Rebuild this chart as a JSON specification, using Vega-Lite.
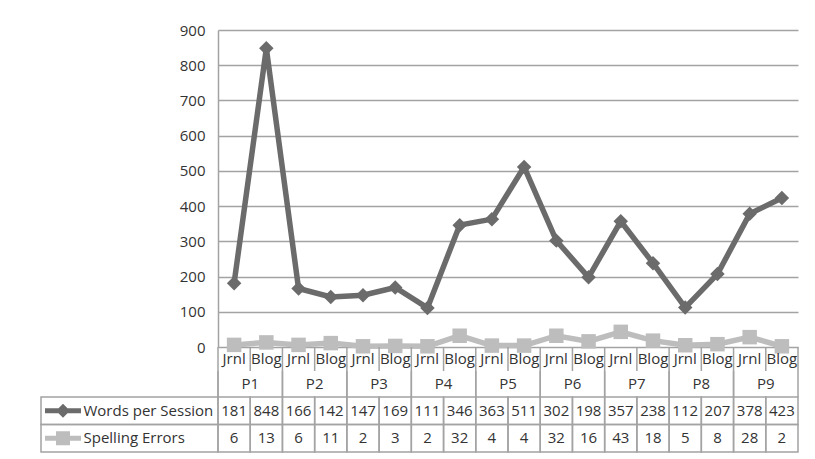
{
  "$schema": "https://vega.github.io/schema/vega-lite/v6.json",
  "background": "white",
  "padding": {"left": 40, "top": 23, "right": 18, "bottom": 5},
  "autosize": {"type": "pad"},
  "config": {
    "view": {"stroke": null},
    "font": "Open Sans",
    "text": {"font": "Open Sans", "fontSize": 15, "fill": "#333333"},
    "rule": {"stroke": "#a3a3a3", "strokeWidth": 1.5},
    "rect": {"fill": "transparent", "stroke": "#a3a3a3", "strokeWidth": 1.5}
  },
  "datasets": {
    "sessions": [
      {"participant": "P1", "session": "Jrnl", "key": "P1 Jrnl", "Words per Session": 181, "Spelling Errors": 6},
      {"participant": "P1", "session": "Blog", "key": "P1 Blog", "Words per Session": 848, "Spelling Errors": 13},
      {"participant": "P2", "session": "Jrnl", "key": "P2 Jrnl", "Words per Session": 166, "Spelling Errors": 6},
      {"participant": "P2", "session": "Blog", "key": "P2 Blog", "Words per Session": 142, "Spelling Errors": 11},
      {"participant": "P3", "session": "Jrnl", "key": "P3 Jrnl", "Words per Session": 147, "Spelling Errors": 2},
      {"participant": "P3", "session": "Blog", "key": "P3 Blog", "Words per Session": 169, "Spelling Errors": 3},
      {"participant": "P4", "session": "Jrnl", "key": "P4 Jrnl", "Words per Session": 111, "Spelling Errors": 2},
      {"participant": "P4", "session": "Blog", "key": "P4 Blog", "Words per Session": 346, "Spelling Errors": 32},
      {"participant": "P5", "session": "Jrnl", "key": "P5 Jrnl", "Words per Session": 363, "Spelling Errors": 4},
      {"participant": "P5", "session": "Blog", "key": "P5 Blog", "Words per Session": 511, "Spelling Errors": 4},
      {"participant": "P6", "session": "Jrnl", "key": "P6 Jrnl", "Words per Session": 302, "Spelling Errors": 32},
      {"participant": "P6", "session": "Blog", "key": "P6 Blog", "Words per Session": 198, "Spelling Errors": 16},
      {"participant": "P7", "session": "Jrnl", "key": "P7 Jrnl", "Words per Session": 357, "Spelling Errors": 43},
      {"participant": "P7", "session": "Blog", "key": "P7 Blog", "Words per Session": 238, "Spelling Errors": 18},
      {"participant": "P8", "session": "Jrnl", "key": "P8 Jrnl", "Words per Session": 112, "Spelling Errors": 5},
      {"participant": "P8", "session": "Blog", "key": "P8 Blog", "Words per Session": 207, "Spelling Errors": 8},
      {"participant": "P9", "session": "Jrnl", "key": "P9 Jrnl", "Words per Session": 378, "Spelling Errors": 28},
      {"participant": "P9", "session": "Blog", "key": "P9 Blog", "Words per Session": 423, "Spelling Errors": 2}
    ],
    "series": [
      {"series": "Words per Session"},
      {"series": "Spelling Errors"}
    ]
  },
  "spacing": 0,
  "bounds": "flush",
  "columns": 2,
  "concat": [
    {
      "width": 177,
      "height": 317,
      "data": {"values": [{}]},
      "mark": {"type": "point", "opacity": 0}
    },
    {
      "width": 580,
      "height": 317,
      "data": {"name": "sessions"},
      "transform": [{"fold": ["Words per Session", "Spelling Errors"], "as": ["series", "value"]}],
      "encoding": {
        "x": {"field": "key", "type": "ordinal", "sort": null, "scale": {"type": "point", "padding": 0.5}, "axis": null},
        "y": {
          "field": "value", "type": "quantitative",
          "scale": {"domain": [0, 900], "nice": false},
          "axis": {
            "values": [0, 100, 200, 300, 400, 500, 600, 700, 800, 900],
            "title": null, "ticks": false, "labelPadding": 13,
            "labelFontSize": 15, "labelColor": "#333333", "labelFont": "Open Sans",
            "grid": true, "gridColor": "#a3a3a3", "gridWidth": 1.5,
            "domainColor": "#a3a3a3", "domainWidth": 1.5
          }
        },
        "color": {"field": "series", "type": "nominal", "scale": {"domain": ["Words per Session", "Spelling Errors"], "range": ["#6b6b6b", "#bdbdbd"]}, "legend": null}
      },
      "layer": [
        {"mark": {"type": "line", "strokeWidth": 5.5, "order": false}},
        {
          "mark": {"type": "point", "filled": true, "opacity": 1, "size": 210},
          "encoding": {
            "shape": {"field": "series", "type": "nominal", "scale": {"domain": ["Words per Session", "Spelling Errors"], "range": ["diamond", "square"]}, "legend": null}
          }
        }
      ]
    },
    {
      "width": 177,
      "height": 24,
      "data": {"values": [{}]},
      "mark": {"type": "point", "opacity": 0}
    },
    {
      "width": 580,
      "height": 24,
      "data": {"name": "sessions"},
      "layer": [
        {
          "mark": {"type": "rule"},
          "encoding": {
            "x": {"field": "key", "type": "nominal", "sort": null, "bandPosition": 0, "scale": {"type": "band", "paddingInner": 0, "paddingOuter": 0}, "axis": null}
          }
        },
        {
          "transform": [{"filter": "datum.key == 'P9 Blog'"}],
          "mark": {"type": "rule"},
          "encoding": {
            "x": {"field": "key", "type": "nominal", "sort": null, "bandPosition": 1, "axis": null}
          }
        },
        {
          "mark": {"type": "text"},
          "encoding": {
            "x": {"field": "key", "type": "nominal", "sort": null, "bandPosition": 0.5, "axis": null},
            "text": {"field": "session"}
          }
        }
      ]
    },
    {
      "width": 177,
      "height": 26,
      "data": {"values": [{}]},
      "mark": {"type": "point", "opacity": 0}
    },
    {
      "width": 580,
      "height": 26,
      "data": {"name": "sessions"},
      "layer": [
        {
          "mark": {"type": "rule"},
          "encoding": {
            "x": {"field": "participant", "type": "nominal", "sort": null, "bandPosition": 0, "scale": {"type": "band", "paddingInner": 0, "paddingOuter": 0}, "axis": null}
          }
        },
        {
          "transform": [{"filter": "datum.key == 'P9 Blog'"}],
          "mark": {"type": "rule"},
          "encoding": {
            "x": {"field": "participant", "type": "nominal", "sort": null, "bandPosition": 1, "axis": null}
          }
        },
        {
          "transform": [{"filter": "datum.session == 'Jrnl'"}],
          "mark": {"type": "text"},
          "encoding": {
            "x": {"field": "participant", "type": "nominal", "sort": null, "bandPosition": 0.5, "axis": null},
            "text": {"field": "participant"}
          }
        }
      ]
    },
    {
      "width": 177,
      "height": 55,
      "data": {"name": "series"},
      "layer": [
        {
          "mark": {"type": "rect"},
          "encoding": {
            "y": {"field": "series", "type": "nominal", "scale": {"type": "band", "domain": ["Words per Session", "Spelling Errors"], "paddingInner": 0, "paddingOuter": 0}, "axis": null}
          }
        },
        {
          "transform": [{"filter": "datum.series == 'Words per Session'"}],
          "mark": {"type": "point", "filled": true, "opacity": 1, "size": 4, "fill": "#6b6b6b", "shape": "M-84.5,-2.5H-48.5V2.5H-84.5Z M-66.5,-7L-59.5,0L-66.5,7L-73.5,0Z"},
          "encoding": {
            "y": {"field": "series", "type": "nominal", "axis": null}
          }
        },
        {
          "transform": [{"filter": "datum.series == 'Spelling Errors'"}],
          "mark": {"type": "point", "filled": true, "opacity": 1, "size": 4, "fill": "#bdbdbd", "shape": "M-84.5,-2.5H-48.5V2.5H-84.5Z M-73.5,-7H-59.5V7H-73.5Z"},
          "encoding": {
            "y": {"field": "series", "type": "nominal", "axis": null}
          }
        },
        {
          "mark": {"type": "text", "align": "left", "dx": -46},
          "encoding": {
            "y": {"field": "series", "type": "nominal", "axis": null},
            "text": {"field": "series"}
          }
        }
      ]
    },
    {
      "width": 580,
      "height": 55,
      "data": {"name": "sessions"},
      "transform": [{"fold": ["Words per Session", "Spelling Errors"], "as": ["series", "value"]}],
      "encoding": {
        "x": {"field": "key", "type": "nominal", "sort": null, "scale": {"type": "band", "paddingInner": 0, "paddingOuter": 0}, "axis": null},
        "y": {"field": "series", "type": "nominal", "scale": {"type": "band", "domain": ["Words per Session", "Spelling Errors"], "paddingInner": 0, "paddingOuter": 0}, "axis": null}
      },
      "layer": [
        {"mark": {"type": "rect"}},
        {"mark": {"type": "text"}, "encoding": {"text": {"field": "value", "type": "quantitative"}}}
      ]
    }
  ]
}
